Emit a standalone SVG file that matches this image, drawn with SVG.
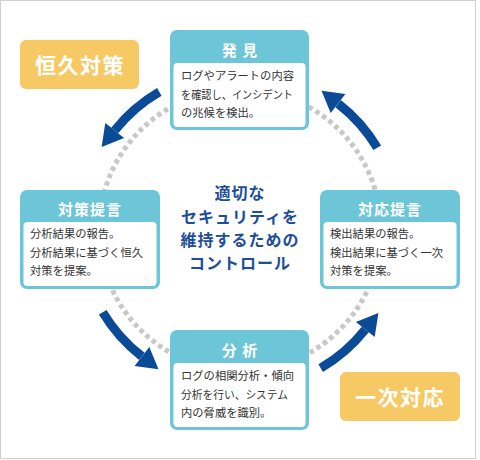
<svg xmlns="http://www.w3.org/2000/svg" width="480" height="460" viewBox="0 0 480 460">
<style>
.frame{fill:#fff;stroke:#d0d0d0;stroke-width:1}
.box{fill:#6cc6d8}
.inner{fill:#fff}
.hd{font-family:"Noto Sans CJK JP","Noto Sans",sans-serif;font-size:15px;font-weight:bold;fill:#fff;text-anchor:middle;letter-spacing:1px}
.tx{font-family:"Noto Sans CJK JP","Noto Sans",sans-serif;font-size:11.3px;fill:#333}
.lab{fill:#f6c965}
.labt{font-family:"Noto Sans CJK JP","Noto Sans",sans-serif;font-size:21px;font-weight:bold;fill:#fff;text-anchor:middle;letter-spacing:1.5px}
.ctr{font-family:"Noto Sans CJK JP","Noto Sans",sans-serif;font-size:16px;font-weight:bold;fill:#1d4e9a;text-anchor:middle;letter-spacing:1px}
.dots{fill:none;stroke:#c8c8c8;stroke-width:5;stroke-dasharray:4.5 3.5}
.shaft{fill:none;stroke:#0b4a97;stroke-width:9}
.head{fill:#0b4a97}
</style>
<rect class="frame" x="0.5" y="0.5" width="475" height="458"/>
<g id="connectors">
<circle class="dots" cx="240" cy="230" r="141"/>
<path class="shaft" d="M377.3 147.8 A160 160 0 0 0 338.1 103.6"/>
<polygon class="head" points="321.5,90.7 345.4,94.1 330.7,113.1"/>
<path class="shaft" d="M159.3 91.9 A160 160 0 0 0 114.7 130.5"/>
<polygon class="head" points="101.6,147.0 105.3,123.0 124.1,138.0"/>
<path class="shaft" d="M102.7 312.2 A160 160 0 0 0 141.9 356.4"/>
<polygon class="head" points="158.5,369.3 134.6,365.9 149.3,346.9"/>
<path class="shaft" d="M320.7 368.1 A160 160 0 0 0 365.3 329.5"/>
<polygon class="head" points="378.4,313.0 374.7,337.0 355.9,322.0"/>
</g>
<g id="center">
<text class="ctr" x="240" y="199">適切な</text>
<text class="ctr" x="240" y="223">セキュリティを</text>
<text class="ctr" x="240" y="246">維持するための</text>
<text class="ctr" x="240" y="269">コントロール</text>
</g>
<g id="hakken">
<rect class="box" x="170" y="30" width="139" height="100" rx="7"/>
<rect class="inner" x="173.5" y="63" width="132" height="64" rx="4"/>
<text class="hd" x="240" y="55.5">発 見</text>
<text class="tx" x="181" y="80">ログやアラートの内容</text>
<text class="tx" x="181" y="98.5" textLength="112" lengthAdjust="spacingAndGlyphs">を確認し、インシデント</text>
<text class="tx" x="181" y="117">の兆候を検出。</text>
</g>
<g id="taisaku">
<rect class="box" x="20" y="190" width="140" height="99" rx="7"/>
<rect class="inner" x="23.5" y="222" width="133" height="64" rx="4"/>
<text class="hd" x="90" y="214.5">対策提言</text>
<text class="tx" x="30" y="238">分析結果の報告。</text>
<text class="tx" x="30" y="256.5">分析結果に基づく恒久</text>
<text class="tx" x="30" y="275">対策を提案。</text>
</g>
<g id="taiou">
<rect class="box" x="320" y="190" width="140" height="99" rx="7"/>
<rect class="inner" x="323.5" y="222" width="133" height="64" rx="4"/>
<text class="hd" x="390" y="214.5">対応提言</text>
<text class="tx" x="330" y="238">検出結果の報告。</text>
<text class="tx" x="330" y="256.5">検出結果に基づく一次</text>
<text class="tx" x="330" y="275">対策を提案。</text>
</g>
<g id="bunseki">
<rect class="box" x="170" y="330" width="139" height="100" rx="7"/>
<rect class="inner" x="173.5" y="363" width="132" height="64" rx="4"/>
<text class="hd" x="240" y="355.5">分 析</text>
<text class="tx" x="181" y="380">ログの相関分析・傾向</text>
<text class="tx" x="181" y="398.5" textLength="107" lengthAdjust="spacingAndGlyphs">分析を行い、システム</text>
<text class="tx" x="181" y="417">内の脅威を識別。</text>
</g>
<g id="label-koukyu">
<rect class="lab" x="20" y="40" width="119" height="49" rx="6"/>
<text class="labt" x="80" y="72.5">恒久対策</text>
</g>
<g id="label-ichiji">
<rect class="lab" x="340" y="372" width="120" height="49" rx="6"/>
<text class="labt" x="400" y="404.5">一次対応</text>
</g>
</svg>
